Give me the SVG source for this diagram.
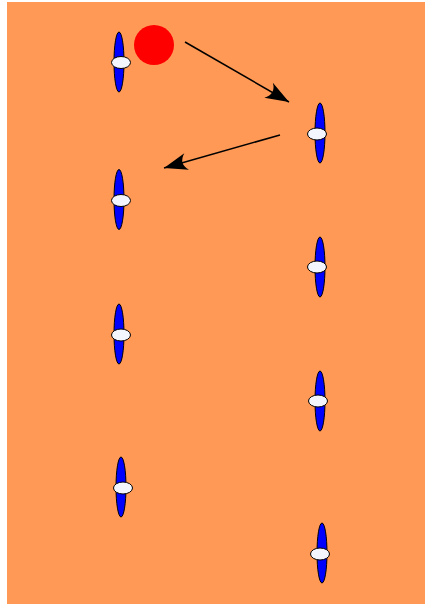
<svg xmlns="http://www.w3.org/2000/svg" width="425" height="605" viewBox="0 0 425 605">
<style>
.body{fill:#0000ff;stroke:#000;stroke-width:1}
.head{fill:#f4f6ff;stroke:#000;stroke-width:1}
.move{fill:none;stroke:#000;stroke-width:1.5}
</style>
<defs>
<marker id="ah" markerUnits="userSpaceOnUse" markerWidth="30" markerHeight="30" refX="0" refY="0" viewBox="-24 -12 28 24" orient="auto" overflow="visible">
<path d="M0,0 L-22,-8 Q-14,0 -22,8 Z" fill="#000"/>
</marker>
</defs>
<rect x="7" y="2" width="418" height="602" fill="#ff9955"/>
<g id="ball"><circle cx="154" cy="45" r="20" fill="#ff0000"/></g>
<g id="p1"><ellipse class="body" cx="119" cy="62" rx="5" ry="30"/><ellipse class="head" cx="121" cy="62.5" rx="9.5" ry="6"/></g>
<g id="p2"><ellipse class="body" cx="119" cy="199.5" rx="5" ry="30"/><ellipse class="head" cx="121" cy="200.5" rx="9.5" ry="6"/></g>
<g id="p3"><ellipse class="body" cx="119" cy="334" rx="5" ry="30"/><ellipse class="head" cx="121" cy="335" rx="9.5" ry="6"/></g>
<g id="p4"><ellipse class="body" cx="121" cy="487" rx="5" ry="30"/><ellipse class="head" cx="123" cy="488" rx="9.5" ry="6"/></g>
<g id="p5"><ellipse class="body" cx="320" cy="133" rx="5" ry="30"/><ellipse class="head" cx="317" cy="134" rx="9.5" ry="6"/></g>
<g id="p6"><ellipse class="body" cx="320" cy="267" rx="5" ry="30"/><ellipse class="head" cx="317" cy="267" rx="9.5" ry="6"/></g>
<g id="p7"><ellipse class="body" cx="320" cy="401" rx="5" ry="30"/><ellipse class="head" cx="318" cy="401" rx="9.5" ry="6"/></g>
<g id="p8"><ellipse class="body" cx="322" cy="553" rx="5" ry="30"/><ellipse class="head" cx="320" cy="554" rx="9.5" ry="6"/></g>
<g id="connectors">
<line class="move" x1="185" y1="42" x2="289" y2="102" marker-end="url(#ah)"/>
<line class="move" x1="280" y1="135" x2="164" y2="168" marker-end="url(#ah)"/>
</g>
</svg>
